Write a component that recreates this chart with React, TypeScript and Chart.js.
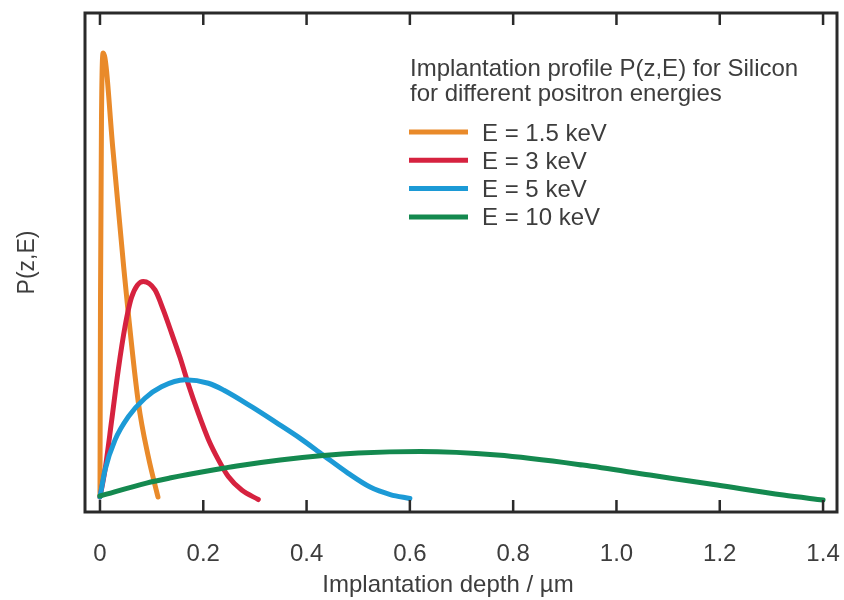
import React, { useEffect, useRef } from 'react';
import { Chart, registerables } from 'chart.js';

Chart.register(...registerables);

// ---- data ----
const seriesLabels = ['E = 1.5 keV', 'E = 3 keV', 'E = 5 keV', 'E = 10 keV'];
const seriesColors = ['#E98A2A', '#D6223F', '#1C9AD6', '#14894F'];

const depth1p5 = [0, 0.001, 0.0029, 0.0064, 0.0252, 0.046, 0.0742, 0.0935, 0.1123];
const prob1p5 = [3.0, 42.5, 78.6, 92.0, 72.5, 49.0, 22.0, 11.1, 3.0];

const depth3 = [0, 0.0097, 0.0227, 0.0354, 0.0484, 0.0614, 0.0838, 0.1065, 0.1226, 0.1388, 0.1549, 0.171, 0.1904, 0.2097, 0.2291, 0.2485, 0.2744, 0.3065];
const prob3 = [3.0, 8.4, 18.4, 28.5, 37.1, 43.1, 46.2, 44.5, 40.5, 35.8, 31.0, 25.6, 19.8, 14.6, 10.5, 7.1, 4.4, 2.5];

const depth5 = [0, 0.0097, 0.029, 0.055, 0.087, 0.119, 0.165, 0.21, 0.24, 0.295, 0.34, 0.387, 0.432, 0.48, 0.523, 0.562, 0.6];
const prob5 = [3.0, 8.4, 14.4, 19.1, 22.8, 25.1, 26.5, 25.8, 24.4, 21.0, 18.0, 14.8, 11.4, 7.8, 5.0, 3.5, 2.7];

const depth10 = [0, 0.09, 0.135, 0.219, 0.265, 0.349, 0.432, 0.5, 0.62, 0.769, 0.935, 1.065, 1.195, 1.323, 1.4];
const prob10 = [3.2, 5.8, 6.8, 8.4, 9.2, 10.4, 11.3, 11.8, 12.1, 11.4, 9.4, 7.4, 5.4, 3.4, 2.4];

const xTickValues = [0, 0.2, 0.4, 0.6, 0.8, 1.0, 1.2, 1.4];

const legendTitle = ['Implantation profile P(z,E) for Silicon', 'for different positron energies'];
const xAxisTitle = 'Implantation depth / µm';
const yAxisTitle = 'P(z,E)';

const FONT = '"Liberation Sans", Arial, Helvetica, sans-serif';
const TEXT = '#3d3d3d';
const FRAME = '#2a2a2a';

const toPoints = (xs: number[], ys: number[]) => xs.map((x, i) => ({ x, y: ys[i] }));

const decorPlugin = {
  id: 'decor',
  afterDatasetsDraw(chart: any) {
    const { ctx, chartArea } = chart;
    const { left, right, top, bottom } = chartArea;
    const xs = chart.scales.x;
    ctx.save();
    // inward tick marks on bottom and top
    ctx.strokeStyle = FRAME;
    ctx.lineWidth = 2.5;
    xs.ticks.forEach((t: any) => {
      const px = xs.getPixelForValue(t.value);
      ctx.beginPath();
      ctx.moveTo(px, bottom);
      ctx.lineTo(px, bottom - 12);
      ctx.moveTo(px, top);
      ctx.lineTo(px, top + 12);
      ctx.stroke();
    });
    // frame
    ctx.lineWidth = 3;
    ctx.strokeRect(left, top, right - left, bottom - top);
    ctx.restore();
  },
  afterDraw(chart: any) {
    const { ctx } = chart;
    ctx.save();
    ctx.fillStyle = TEXT;
    ctx.textAlign = 'left';
    ctx.textBaseline = 'alphabetic';
    ctx.font = `24px ${FONT}`;
    // legend title
    ctx.fillText(legendTitle[0], 410, 76);
    ctx.fillText(legendTitle[1], 410, 101);
    // legend items
    chart.data.datasets.forEach((ds: any, i: number) => {
      const y = 132 + i * 28.3;
      ctx.strokeStyle = ds.borderColor;
      ctx.lineWidth = 5;
      ctx.beginPath();
      ctx.moveTo(409, y);
      ctx.lineTo(468, y);
      ctx.stroke();
      ctx.fillStyle = TEXT;
      ctx.fillText(ds.label, 482, y + 8.5);
    });
    // x axis title
    ctx.textAlign = 'center';
    ctx.textBaseline = 'middle';
    ctx.fillText(xAxisTitle, 448, 585);
    ctx.restore();
  },
};

export default function App() {
  const ref = useRef<HTMLCanvasElement>(null);

  useEffect(() => {
    document.body.style.margin = '0';
    const canvas = ref.current;
    if (!canvas) return;
    const chart = new Chart(canvas, {
      type: 'line',
      data: {
        datasets: [
          { label: seriesLabels[0], data: toPoints(depth1p5, prob1p5), borderColor: seriesColors[0], order: 4 },
          { label: seriesLabels[1], data: toPoints(depth3, prob3), borderColor: seriesColors[1], order: 3 },
          { label: seriesLabels[2], data: toPoints(depth5, prob5), borderColor: seriesColors[2], order: 2 },
          { label: seriesLabels[3], data: toPoints(depth10, prob10), borderColor: seriesColors[3], order: 1 },
        ].map((d) => ({
          ...d,
          borderWidth: 5,
          pointRadius: 0,
          fill: false,
          cubicInterpolationMode: 'monotone' as const,
          borderCapStyle: 'round' as const,
          borderJoinStyle: 'round' as const,
        })),
      },
      options: {
        animation: false,
        responsive: false,
        layout: { padding: { top: 13, right: 7, left: 0, bottom: 0 } },
        plugins: { legend: { display: false }, tooltip: { enabled: false } },
        scales: {
          x: {
            type: 'linear',
            min: -0.029,
            max: 1.427,
            grid: { display: false },
            border: { display: false },
            afterBuildTicks: (scale: any) => {
              scale.ticks = xTickValues.map((v) => ({ value: v }));
            },
            afterFit: (scale: any) => {
              scale.height = 88;
              scale.paddingLeft = 0;
              scale.paddingRight = 0;
            },
            ticks: {
              autoSkip: false,
              maxRotation: 0,
              padding: 20,
              color: TEXT,
              font: { family: FONT, size: 24 },
              callback: (v: any) => (Number(v) === 0 ? '0' : Number(v).toFixed(1)),
            },
            title: { display: false },
          },
          y: {
            type: 'linear',
            min: 0,
            max: 100,
            grid: { display: false },
            border: { display: false },
            ticks: { display: false },
            afterFit: (scale: any) => {
              scale.width = 85;
              scale.paddingTop = 0;
              scale.paddingBottom = 0;
            },
            title: {
              display: true,
              text: yAxisTitle,
              color: TEXT,
              font: { family: FONT, size: 23 },
              padding: { top: 14, bottom: 0 },
            },
          },
        },
      },
      plugins: [decorPlugin],
    });
    return () => chart.destroy();
  }, []);

  return (
    <div style={{ width: 844, height: 600, background: '#fff' }}>
      <canvas ref={ref} width={844} height={600} />
    </div>
  );
}
